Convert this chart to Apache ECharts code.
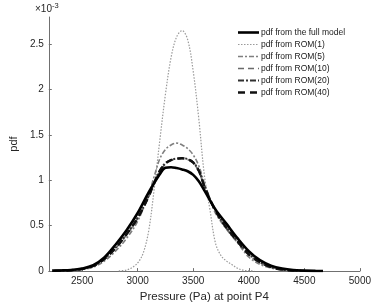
<!DOCTYPE html>
<html>
<head>
<meta charset="utf-8">
<script src="https://cdn.jsdelivr.net/npm/echarts@6/dist/echarts.min.js"></script>
<style>html,body{margin:0;padding:0;background:#fff}#c{width:374px;height:308px}</style>
</head>
<body>
<div id="c"></div>
<script>
// values in units of 1e-3
const seriesNames = ['pdf from the full model','pdf from ROM(1)','pdf from ROM(5)','pdf from ROM(10)','pdf from ROM(20)','pdf from ROM(40)'];
const xTicks = [2500,3000,3500,4000,4500,5000];
const yTicks = [0,0.5,1,1.5,2,2.5];

const fullX = [2230,2300,2400,2500,2600,2700,2800,2900,3000,3100,3200,3250,3300,3350,3400,3450,3500,3550,3600,3700,3800,3900,4000,4100,4200,4300,4400,4500,4600,4668];
const fullY = [0.005,0.007,0.012,0.028,0.065,0.15,0.29,0.45,0.64,0.87,1.07,1.14,1.145,1.135,1.12,1.10,1.06,0.99,0.89,0.68,0.52,0.36,0.22,0.12,0.06,0.028,0.011,0.005,0.002,0.001];

const rom1X = [2830,2900,2950,3000,3050,3100,3150,3200,3250,3300,3350,3400,3450,3500,3550,3600,3650,3700,3750,3800,3850,3900,3950,4000,4050];
const rom1Y = [0.002,0.012,0.04,0.09,0.2,0.45,0.92,1.45,1.95,2.35,2.58,2.65,2.55,2.2,1.68,1.06,0.68,0.31,0.17,0.11,0.07,0.03,0.01,0.004,0.001];

const rom5X = [2250,2400,2500,2600,2700,2800,2900,3000,3100,3150,3200,3250,3300,3350,3400,3450,3500,3550,3600,3650,3700,3800,3900,4000,4100,4200,4300,4400];
const rom5Y = [0.003,0.008,0.018,0.045,0.11,0.22,0.36,0.55,0.85,1.05,1.24,1.34,1.39,1.41,1.39,1.35,1.28,1.16,0.97,0.8,0.64,0.46,0.31,0.155,0.075,0.035,0.012,0.004];

const rom10X = [2250,2400,2500,2600,2700,2800,2900,3000,3100,3150,3200,3250,3300,3350,3400,3450,3500,3550,3600,3700,3800,3900,4000,4100,4200,4300,4400,4500];
const rom10Y = [0.003,0.01,0.022,0.055,0.13,0.25,0.40,0.58,0.82,0.97,1.10,1.18,1.22,1.235,1.24,1.23,1.19,1.10,0.93,0.66,0.47,0.32,0.18,0.095,0.043,0.016,0.006,0.002];
const rom20Y = [0.003,0.01,0.023,0.057,0.135,0.255,0.41,0.59,0.83,0.98,1.11,1.19,1.225,1.24,1.245,1.235,1.20,1.11,0.94,0.67,0.48,0.33,0.19,0.10,0.045,0.017,0.006,0.002];
const rom40Y = [0.003,0.01,0.023,0.056,0.133,0.252,0.405,0.585,0.825,0.975,1.105,1.185,1.222,1.238,1.243,1.232,1.195,1.105,0.935,0.665,0.475,0.325,0.185,0.098,0.044,0.016,0.006,0.002];

function pairs(xs, ys){ return xs.map((x,i)=>[x, ys[i]]); }

const styles = [
  {color:'#000000', width:2.6, type:'solid'},
  {color:'#9a9a9a', width:1.2, type:[1.5,1.5]},
  {color:'#7f7f7f', width:1.6, type:[5,2,2,2]},
  {color:'#6a6a6a', width:1.6, type:[6,4]},
  {color:'#303030', width:2.0, type:[6,2,2,2]},
  {color:'#111111', width:2.4, type:[7,5]}
];
const datas = [pairs(fullX,fullY), pairs(rom1X,rom1Y), pairs(rom5X,rom5Y), pairs(rom10X,rom10Y), pairs(rom10X,rom20Y), pairs(rom10X,rom40Y)];
const drawOrder = [1,2,3,4,5,0];

// legend drawn as graphic elements
const legendGraphics = [];
seriesNames.forEach((nm,i)=>{
  const y = 32.5 + i*12;
  legendGraphics.push({
    type:'line', shape:{x1:238, y1:y, x2:259, y2:y},
    style:{stroke:styles[i].color, lineWidth:styles[i].width, lineDash: styles[i].type==='solid'?null:styles[i].type}
  });
  legendGraphics.push({
    type:'text', x:261, y:y,
    style:{text:nm, fontSize:8.5, fill:'#1a1a1a', verticalAlign:'middle', fontFamily:'Liberation Sans, Arial, sans-serif'}
  });
});

const chart = echarts.init(document.getElementById('c'), null, {renderer:'canvas'});
chart.setOption({
  animation:false,
  backgroundColor:'#ffffff',
  textStyle:{fontFamily:'Liberation Sans, Arial, sans-serif'},
  grid:{left:35, right:12, top:17, bottom:33, containLabel:false},
  xAxis:{
    type:'value', min:2200, max:5000,
    name:'Pressure (Pa) at point P4', nameLocation:'middle', nameGap:15,
    nameTextStyle:{fontSize:11.5, color:'#262626'},
    axisLine:{show:true, lineStyle:{color:'#707070', width:1}},
    axisTick:{show:true, inside:true, length:3, customValues:xTicks, lineStyle:{color:'#707070'}},
    axisLabel:{customValues:xTicks, fontSize:10, color:'#262626', margin:5, formatter:function(v){return String(v);}},
    splitLine:{show:false}
  },
  yAxis:{
    type:'value', min:0, max:2.8,
    name:'pdf', nameLocation:'middle', nameGap:21,
    nameTextStyle:{fontSize:11, color:'#262626'},
    axisLine:{show:true, lineStyle:{color:'#707070', width:1}},
    axisTick:{show:true, inside:true, length:3, customValues:yTicks, lineStyle:{color:'#707070'}},
    axisLabel:{customValues:yTicks, fontSize:10, color:'#262626', margin:5, formatter:function(v){return String(v);}},
    splitLine:{show:false}
  },
  graphic:[{
    type:'text', left:35, top:2,
    style:{
      rich:{a:{fontSize:10, fill:'#262626', fontFamily:'Liberation Sans, Arial, sans-serif'}, b:{fontSize:7.5, fill:'#262626', verticalAlign:'top', padding:[0,0,6,0], fontFamily:'Liberation Sans, Arial, sans-serif'}},
      text:'{a|×10}{b|-3}'
    }
  }].concat(legendGraphics),
  series: drawOrder.map(i=>({
    name:seriesNames[i], type:'line', data:datas[i], smooth:0.35, symbol:'none', showSymbol:false,
    lineStyle:{color:styles[i].color, width:styles[i].width, type:styles[i].type},
    itemStyle:{color:styles[i].color},
    z: i===0?5:3
  }))
});
</script>
</body>
</html>
